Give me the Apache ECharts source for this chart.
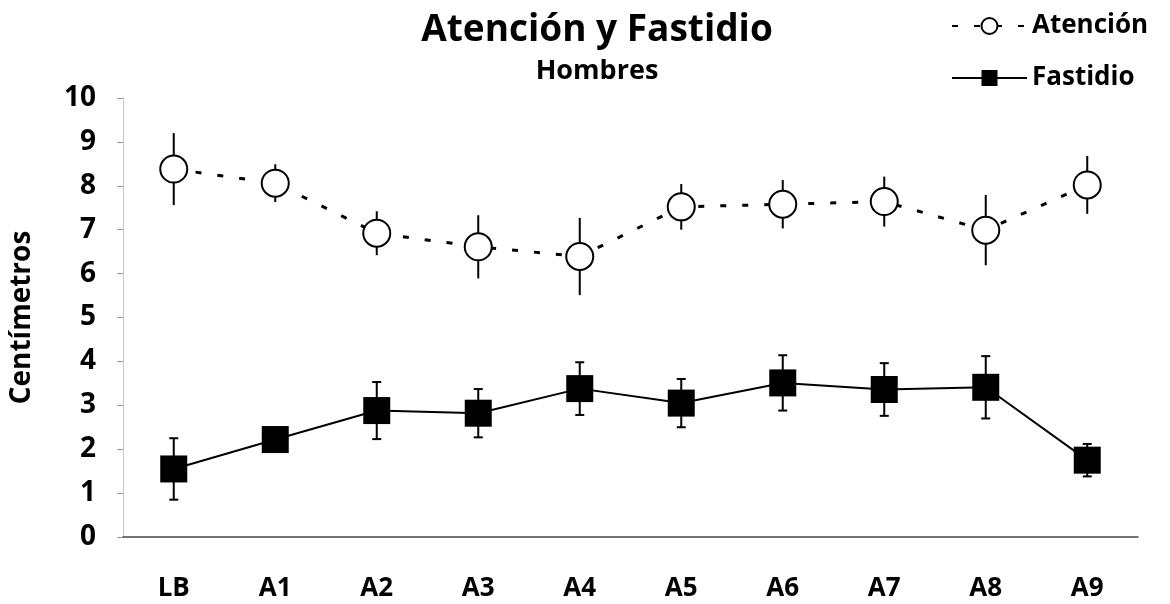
<!DOCTYPE html>
<html>
<head>
<meta charset="utf-8">
<script src="https://cdn.jsdelivr.net/npm/echarts@6/dist/echarts.min.js"></script>
<style>
  html, body { margin: 0; padding: 0; background: #fff; }
  #chart { width: 1170px; height: 604px; }
</style>
</head>
<body>
<div id="chart"></div>
<script>
// categorias del eje x
const categorias = ['LB', 'A1', 'A2', 'A3', 'A4', 'A5', 'A6', 'A7', 'A8', 'A9'];
// medias y errores
const atencionMedia = [8.38, 8.06, 6.92, 6.61, 6.39, 7.52, 7.58, 7.64, 6.99, 8.02];
const atencionError = [0.82, 0.43, 0.50, 0.72, 0.88, 0.52, 0.55, 0.57, 0.80, 0.66];
const fastidioMedia = [1.55, 2.22, 2.88, 2.82, 3.38, 3.05, 3.51, 3.36, 3.41, 1.75];
const fastidioError = [0.70, 0.20, 0.65, 0.55, 0.60, 0.55, 0.63, 0.60, 0.71, 0.37];
const yTicks = [0, 1, 2, 3, 4, 5, 6, 7, 8, 9, 10];

const fuente = '"Open Sans", Lato, sans-serif';

function barras(media, error) {
    return media.map((m, i) => [i, m - error[i], m + error[i]]);
}

// barras de error: linea vertical, con o sin tope
function errorBar(capWidth) {
    return function (params, api) {
        const x = api.value(0);
        const lo = api.coord([x, api.value(1)]);
        const hi = api.coord([x, api.value(2)]);
        const style = { stroke: '#000', lineWidth: 2 };
        const children = [{
            type: 'line',
            shape: { x1: lo[0], y1: lo[1], x2: hi[0], y2: hi[1] },
            style: style
        }];
        if (capWidth > 0) {
            children.push({
                type: 'line',
                shape: { x1: lo[0] - capWidth / 2, y1: lo[1], x2: lo[0] + capWidth / 2, y2: lo[1] },
                style: style
            }, {
                type: 'line',
                shape: { x1: hi[0] - capWidth / 2, y1: hi[1], x2: hi[0] + capWidth / 2, y2: hi[1] },
                style: style
            });
        }
        return { type: 'group', children: children };
    };
}

const chart = echarts.init(document.getElementById('chart'));
const option = {
    animation: false,
    title: {
        text: 'Atención y Fastidio',
        subtext: 'Hombres',
        left: 592,
        top: 7,
        textAlign: 'center',
        itemGap: 9,
        textStyle: { fontFamily: fuente, fontWeight: 'bold', fontSize: 37, color: '#000' },
        subtextStyle: { fontFamily: fuente, fontWeight: 'bold', fontSize: 27, color: '#000' }
    },
    legend: {
        orient: 'vertical',
        left: 946,
        top: 8,
        itemWidth: 75,
        itemHeight: 20,
        itemGap: 26,
        data: ['Atención', 'Fastidio'],
        textStyle: { fontFamily: fuente, fontWeight: 'bold', fontSize: 26, color: '#000' }
    },
    grid: {
        left: 123,
        right: 32,
        top: 98,
        bottom: 67,
        outerBoundsMode: 'none'
    },
    xAxis: {
        type: 'category',
        data: categorias,
        axisLine: { show: true, lineStyle: { color: '#444', width: 1.5 } },
        axisTick: { show: false },
        axisLabel: {
            margin: 39,
            fontFamily: fuente, fontWeight: 'bold', fontSize: 26, color: '#000'
        },
        splitLine: { show: false }
    },
    yAxis: {
        type: 'value',
        min: yTicks[0],
        max: yTicks[yTicks.length - 1],
        interval: 1,
        name: 'Centímetros',
        nameLocation: 'middle',
        nameRotate: 90,
        nameGap: 87,
        nameTextStyle: { fontFamily: fuente, fontWeight: 'bold', fontSize: 28, color: '#000' },
        axisLine: { show: true, lineStyle: { color: '#bbb', type: 'dotted', width: 1 } },
        axisTick: { show: true, length: 6, lineStyle: { color: '#999' } },
        axisLabel: {
            margin: 27,
            fontFamily: fuente, fontWeight: 'bold', fontSize: 28, color: '#000'
        },
        splitLine: { show: false }
    },
    series: [
        {
            type: 'custom',
            name: 'errAtencion',
            renderItem: errorBar(0),
            data: barras(atencionMedia, atencionError),
            z: 1,
            silent: true
        },
        {
            type: 'custom',
            name: 'errFastidio',
            renderItem: errorBar(9),
            data: barras(fastidioMedia, fastidioError),
            z: 1,
            silent: true
        },
        {
            name: 'Atención',
            type: 'line',
            data: atencionMedia,
            symbol: 'circle',
            symbolSize: 27,
            itemStyle: { color: '#fff', borderColor: '#000', borderWidth: 2 },
            lineStyle: { color: '#000', width: 3, type: [6, 16] },
            z: 3
        },
        {
            name: 'Fastidio',
            type: 'line',
            data: fastidioMedia,
            symbol: 'rect',
            symbolSize: 27,
            itemStyle: { color: '#000', borderColor: '#000', borderWidth: 0 },
            lineStyle: { color: '#000', width: 2 },
            z: 3
        }
    ]
};
chart.setOption(option);
</script>
</body>
</html>
